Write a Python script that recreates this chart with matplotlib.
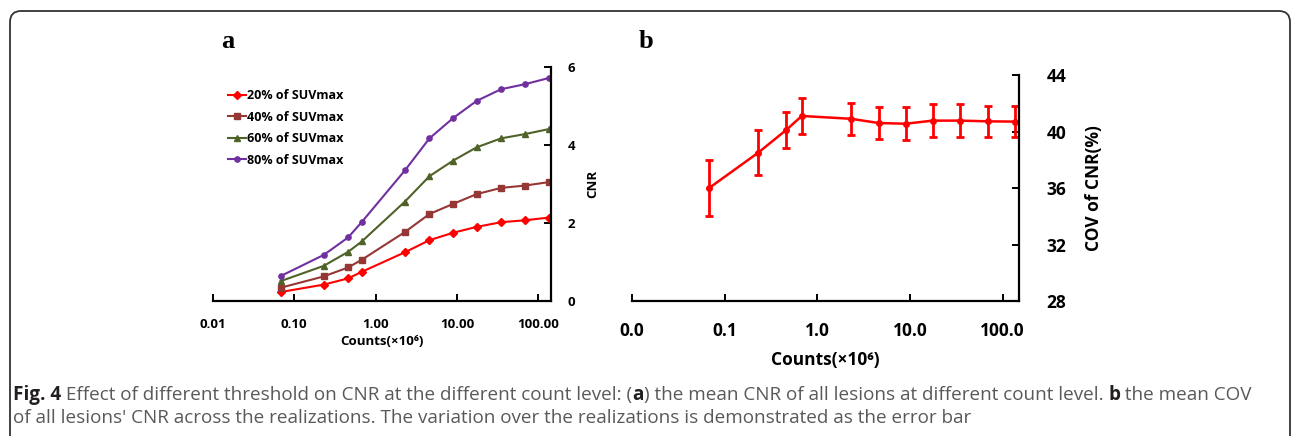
import matplotlib
matplotlib.use("Agg")
import matplotlib.pyplot as plt
from matplotlib.patches import FancyBboxPatch
from matplotlib.transforms import IdentityTransform
from matplotlib.ticker import FixedLocator, FixedFormatter, NullLocator

# counts (x10^6) at each realisation level
counts = [0.068, 0.23, 0.46, 0.68, 2.3, 4.6, 9.0, 17.5, 35, 69, 137]

# panel a: mean CNR per threshold
cnr_20 = [0.23, 0.42, 0.58, 0.75, 1.25, 1.56, 1.75, 1.90, 2.02, 2.07, 2.14]
cnr_40 = [0.34, 0.63, 0.86, 1.06, 1.77, 2.23, 2.49, 2.74, 2.90, 2.96, 3.05]
cnr_60 = [0.51, 0.90, 1.26, 1.53, 2.55, 3.20, 3.60, 3.94, 4.17, 4.28, 4.41]
cnr_80 = [0.64, 1.18, 1.63, 2.03, 3.35, 4.17, 4.69, 5.13, 5.43, 5.56, 5.72]
labels_a = ["20% of SUVmax", "40% of SUVmax", "60% of SUVmax", "80% of SUVmax"]

# panel b: COV of CNR and its spread
cov = [36.0, 38.5, 40.1, 41.1, 40.9, 40.6, 40.55, 40.77, 40.77, 40.72, 40.7]
cov_err = [2.0, 1.6, 1.3, 1.25, 1.15, 1.13, 1.15, 1.15, 1.15, 1.12, 1.12]

xticks = [0.01, 0.1, 1, 10, 100]
xlabels_a = ["0.01", "0.10", "1.00", "10.00", "100.00"]
xlabels_b = ["0.0", "0.1", "1.0", "10.0", "100.0"]

W, H = 1292, 436
SANS = ["Open Sans", "DejaVu Sans"]
plt.rcParams["font.family"] = SANS

fig = plt.figure(figsize=(W / 100, H / 100), dpi=100)

# rounded frame round the whole figure (pixel coords, origin bottom left)
box = FancyBboxPatch((10, -20), 1280, H - 11 + 20,
                     boxstyle="round,pad=0,rounding_size=11",
                     transform=IdentityTransform(), fill=False,
                     edgecolor="#333333", linewidth=1.3)
fig.patches.append(box)


def style_axis(ax, xlim, ylim, yticks, labels, size, pad_x, pad_y):
    ax.set_xscale("log")
    ax.set_xlim(*xlim)
    ax.set_ylim(*ylim)
    for s in ["top", "left"]:
        ax.spines[s].set_visible(False)
    for s in ["bottom", "right"]:
        ax.spines[s].set_linewidth(1.6)
    ax.xaxis.set_major_locator(FixedLocator(xticks))
    ax.xaxis.set_major_formatter(FixedFormatter(labels))
    ax.xaxis.set_minor_locator(NullLocator())
    ax.yaxis.tick_right()
    ax.yaxis.set_label_position("right")
    ax.set_yticks(yticks)
    ax.tick_params(direction="in", length=5, width=1.4, labelsize=size)
    ax.tick_params(axis="x", pad=pad_x)
    ax.tick_params(axis="y", pad=pad_y)
    for t in ax.get_xticklabels() + ax.get_yticklabels():
        t.set_fontweight("bold")


# ---- panel a ----
ax1 = fig.add_axes([213 / W, 1 - 301 / H, 338 / W, 234 / H])
ax1.plot(counts, cnr_20, color="#ff0000", marker="D", ms=3.8, lw=1.5, label=labels_a[0])
ax1.plot(counts, cnr_40, color="#953735", marker="s", ms=3.8, lw=1.5, label=labels_a[1])
ax1.plot(counts, cnr_60, color="#4f6228", marker="^", ms=3.8, lw=1.5, label=labels_a[2])
ax1.plot(counts, cnr_80, color="#7030a0", marker="o", ms=3.8, lw=1.5, label=labels_a[3])
style_axis(ax1, (0.01, 144), (0, 6), [0, 2, 4, 6], xlabels_a, 9.5, 12, 12)
ax1.set_xlabel("Counts(×10⁶)", fontsize=9.5, fontweight="bold", labelpad=3)
ax1.set_ylabel("CNR", fontsize=9.5, fontweight="bold", labelpad=8)
ax1.legend(loc="upper left", bbox_to_anchor=(222 / W, 1 - 83 / H),
           bbox_transform=fig.transFigure, frameon=False, handlelength=1.4,
           handletextpad=0.1, labelspacing=0.68, borderpad=0,
           prop={"size": 9, "weight": "bold"})

# ---- panel b ----
ax2 = fig.add_axes([632 / W, 1 - 301 / H, 387 / W, 226 / H])
ax2.errorbar(counts, cov, yerr=cov_err, color="#ff0000", marker="o", ms=4,
             lw=1.8, elinewidth=2, capsize=3, capthick=2)
style_axis(ax2, (0.01, 150), (28, 44), [28, 32, 36, 40, 44], xlabels_b, 12.5, 15, 20)
ax2.set_xlabel("Counts(×10⁶)", fontsize=12.5, fontweight="bold", labelpad=8)
ax2.set_ylabel("COV of CNR(%)", fontsize=12.5, fontweight="bold", labelpad=13)

fig.text(228 / W, 1 - 42 / H, "a", family="Liberation Serif", fontsize=19,
         fontweight="bold", ha="center", va="center")
fig.text(646 / W, 1 - 42 / H, "b", family="Liberation Serif", fontsize=19,
         fontweight="bold", ha="center", va="center")

# ---- caption with mixed weights ----
renderer = fig.canvas.get_renderer()
DARK, GREY = "#231f20", "#58595b"


def runs_line(x, y, runs, size=13.6):
    for s, bold in runs:
        t = fig.text(x, y, s, fontsize=size, color=DARK if bold else GREY,
                     fontweight="bold" if bold else "normal", va="center")
        x += t.get_window_extent(renderer).width / W


line1 = [("Fig. 4", True),
         (" Effect of different threshold on CNR at the different count level: (", False),
         ("a", True),
         (") the mean CNR of all lesions at different count level. ", False),
         ("b", True),
         (" the mean COV", False)]
line2 = [("of all lesions' CNR across the realizations. The variation over the realizations is demonstrated as the error bar", False)]
runs_line(13 / W, 1 - 395 / H, line1)
runs_line(13 / W, 1 - 418 / H, line2)

fig.savefig("out.png", dpi=100)
